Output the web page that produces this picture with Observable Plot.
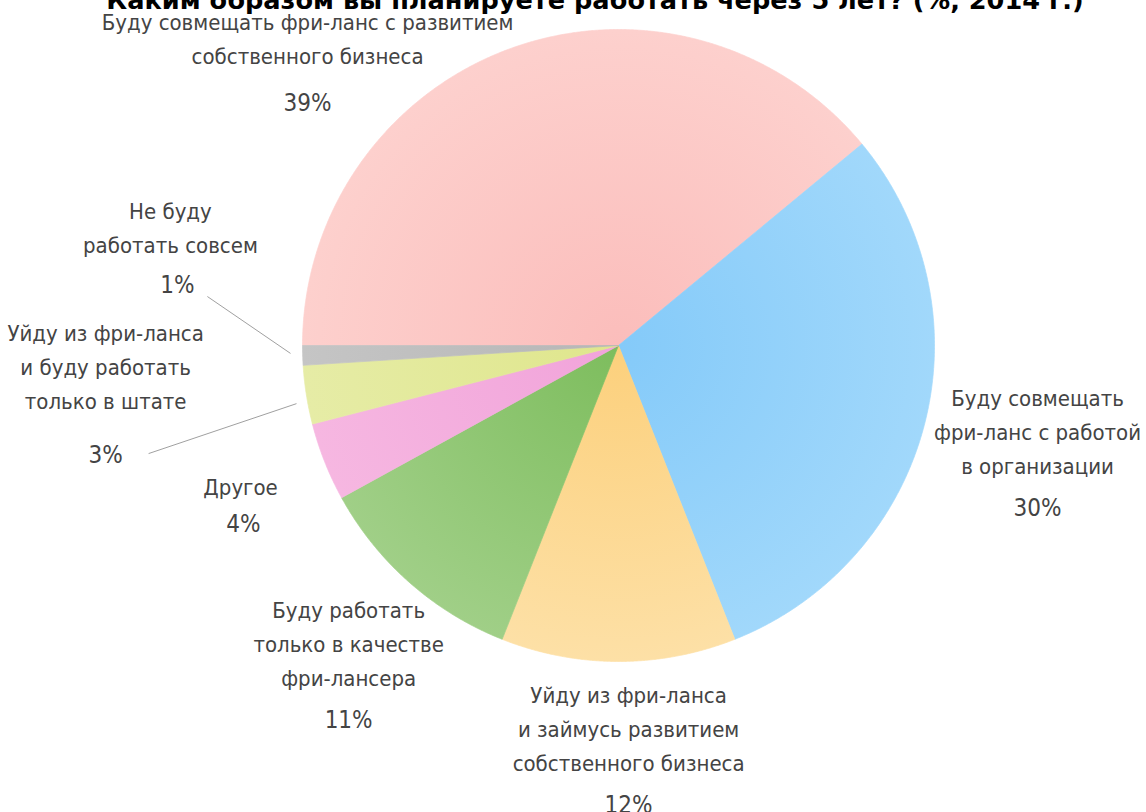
<!DOCTYPE html>
<html><head><meta charset="utf-8">
<script src="https://cdn.jsdelivr.net/npm/d3@7"></script>
<script src="https://cdn.jsdelivr.net/npm/@observablehq/plot@0.6"></script>
<style>
html,body{margin:0;padding:0;background:#fff;overflow:hidden}
#wrap{position:relative;width:1146px;height:812px}
#wrap svg{position:absolute;left:0;top:0}
#title{position:absolute;left:0;top:-15px;width:1146px;padding-left:44px;box-sizing:border-box;text-align:center;font:bold 25.6px "DejaVu Sans",sans-serif;color:#000;white-space:nowrap;z-index:2}
</style></head><body>
<div id="wrap"><div id="title">Каким образом вы планируете работать через 5 лет? (%, 2014 г.)</div></div>
<script>
// ---- data ----
const categories = [
  "Буду совмещать фри-ланс с развитием\nсобственного бизнеса",
  "Буду совмещать\nфри-ланс с работой\nв организации",
  "Уйду из фри-ланса\nи займусь развитием\nсобственного бизнеса",
  "Буду работать\nтолько в качестве\nфри-лансера",
  "Другое",
  "Уйду из фри-ланса\nи буду работать\nтолько в штате",
  "Не буду\nработать совсем"
];
const values = [39, 30, 12, 11, 4, 3, 1];
const pctLabels = ["39%", "30%", "12%", "11%", "4%", "3%", "1%"];

// ---- styles / layout (kept apart from data) ----
const colorsInner = ["#fbbdbb", "#84caf9", "#fcd07c", "#7dbd5d", "#f1a3da", "#dfe68c", "#b6b6b6"];
const colorsOuter = ["#fdd0cd", "#a1d8fb", "#fde0a6", "#a0cf87", "#f6b7e1", "#e6eca6", "#c5c5c5"];
const W = 1146, H = 812, CX = 618, CY = 345, R = 316;
// label anchors in pie-radius units (block centre of name, centre of percent)
const nameAnchor = [[-0.984, 0.978], [1.326, -0.266], [0.032, -1.206], [-0.854, -0.937], [-1.196, -0.440], [-1.623, -0.060], [-1.418, 0.380]];
const pctAnchor  = [[-0.984, 0.766], [1.326, -0.516], [0.032, -1.456], [-0.854, -1.187], [-1.187, -0.566], [-1.623, -0.348], [-1.396, 0.190]];
const leaders = [
  {from: [-1.301, 0.155], to: [-1.038, -0.025]},
  {from: [-1.487, -0.342], to: [-1.019, -0.184]}
];

// ---- geometry from values ----
const arcs = d3.pie().sort(null).startAngle(-Math.PI / 2).endAngle(3 * Math.PI / 2)(values);
const pts = [];
arcs.forEach((s, i) => {
  const n = Math.max(2, Math.ceil((s.endAngle - s.startAngle) / (Math.PI / 720)));
  pts.push({k: i, x: 0, y: 0});
  for (let j = 0; j <= n; j++) {
    const a = s.startAngle + (s.endAngle - s.startAngle) * j / n;
    pts.push({k: i, x: Math.sin(a), y: Math.cos(a)});
  }
  pts.push({k: i, x: 0, y: 0});
});
const names = categories.map((t, i) => ({t, x: nameAnchor[i][0], y: nameAnchor[i][1]}));
const pcts = pctLabels.map((t, i) => ({t, x: pctAnchor[i][0], y: pctAnchor[i][1]}));

const font = "DejaVu Sans Condensed, DejaVu Sans, sans-serif";
const chart = Plot.plot({
  width: W, height: H,
  margin: 0,
  x: {domain: [-CX / R, (W - CX) / R], axis: null},
  y: {domain: [(CY - H) / R, CY / R], axis: null},
  color: {type: "identity"},
  marks: [
    Plot.line(pts, {x: "x", y: "y", z: "k", fill: d => `url(#g${d.k})`, stroke: d => `url(#g${d.k})`, strokeWidth: 0.7, curve: "linear"}),
    Plot.link(leaders, {x1: d => d.from[0], y1: d => d.from[1], x2: d => d.to[0], y2: d => d.to[1], stroke: "#a0a0a0", strokeWidth: 1}),
    Plot.text(names, {x: "x", y: "y", text: "t", fontSize: 22, lineHeight: 34 / 22, fill: "#444", fontFamily: font}),
    Plot.text(pcts, {x: "x", y: "y", text: "t", fontSize: 24, fill: "#444", fontFamily: font})
  ]
});
const X = chart.scale("x"), Y = chart.scale("y");
const cx = X.apply(0), cy = Y.apply(0), rr = X.apply(1) - X.apply(0);
const defs = d3.select(chart).insert("defs", ":first-child");
colorsInner.forEach((c, i) => {
  const g = defs.append("radialGradient").attr("id", "g" + i).attr("gradientUnits", "userSpaceOnUse")
    .attr("cx", cx).attr("cy", cy).attr("r", rr);
  g.append("stop").attr("offset", 0).attr("stop-color", c);
  g.append("stop").attr("offset", 1).attr("stop-color", colorsOuter[i]);
});
document.getElementById("wrap").prepend(chart);
</script>
</body></html>
